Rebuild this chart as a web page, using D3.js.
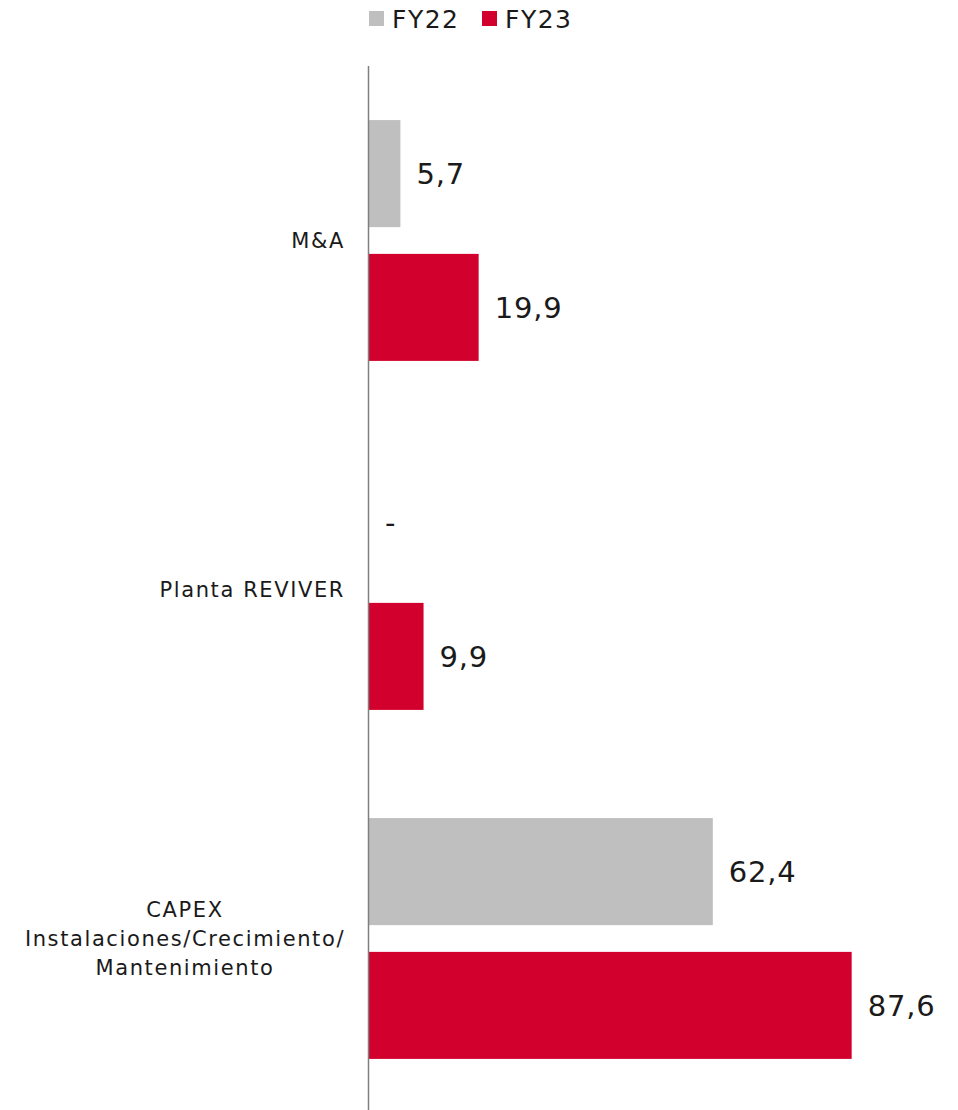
<!DOCTYPE html>
<html>
<head>
<meta charset="utf-8">
<script src="https://cdn.jsdelivr.net/npm/d3@7"></script>
<style>
  body { margin: 0; background: #fff; }
  text { font-family: "DejaVu Sans", sans-serif; fill: #1a1a1a; }
</style>
</head>
<body>
<svg width="958" height="1110"></svg>
<script>
// categories, top to bottom
var categories = ["M&A", "Planta REVIVER", "CAPEX Instalaciones/Crecimiento/ Mantenimiento"];
var categoryLines = [["M&A"], ["Planta REVIVER"], ["CAPEX", "Instalaciones/Crecimiento/", "Mantenimiento"]];
var seriesNames = ["FY22", "FY23"];
var fy22 = [5.7, 0, 62.4];
var fy23 = [19.9, 9.9, 87.6];
var fy22Labels = ["5,7", "-", "62,4"];
var fy23Labels = ["19,9", "9,9", "87,6"];

var colors = {FY22: "#bfbfbf", FY23: "#d2002d"};

var svg = d3.select("svg");

var rows = categories.map(function(c, i) {
  return {
    cat: c,
    lines: categoryLines[i],
    values: [
      {series: "FY22", value: fy22[i], label: fy22Labels[i]},
      {series: "FY23", value: fy23[i], label: fy23Labels[i]}
    ]
  };
});

var y0 = d3.scaleBand()
  .domain(categories)
  .range([66, 1113])
  .paddingInner(0.31)
  .paddingOuter(0.155);

var y1 = d3.scaleBand()
  .domain(seriesNames)
  .range([0, y0.bandwidth()])
  .paddingInner(0.2);

var x = d3.scaleLinear()
  .domain([0, 100])
  .range([369, 920]);

var group = svg.append("g").selectAll("g")
  .data(rows)
  .enter().append("g")
    .attr("transform", function(d) { return "translate(0," + y0(d.cat) + ")"; });

group.selectAll("rect")
  .data(function(d) { return d.values; })
  .enter().append("rect")
    .attr("x", x(0))
    .attr("y", function(d) { return y1(d.series); })
    .attr("width", function(d) { return x(d.value) - x(0); })
    .attr("height", y1.bandwidth())
    .attr("fill", function(d) { return colors[d.series]; });

// value labels
group.selectAll("text.val")
  .data(function(d) { return d.values; })
  .enter().append("text")
    .attr("class", "val")
    .attr("x", function(d) { return x(d.value) + 16; })
    .attr("y", function(d) { return y1(d.series) + y1.bandwidth() / 2; })
    .attr("dy", "0.35em")
    .style("font-size", "29px")
    .style("letter-spacing", "0.8px")
    .text(function(d) { return d.label; });

// category labels
group.each(function(d) {
  var g = d3.select(this),
    n = d.lines.length,
    lh = 29,
    cy = y0.bandwidth() / 2;
  var t = g.append("text")
    .attr("text-anchor", n > 1 ? "middle" : "end")
    .style("font-size", "21px")
    .style("letter-spacing", "1.6px");
  d.lines.forEach(function(l, i) {
    t.append("tspan")
      .attr("x", n > 1 ? 185 : 345)
      .attr("y", cy + (i - (n - 1) / 2) * lh)
      .attr("dy", "0.35em")
      .text(l);
  });
});

// axis line
svg.append("line")
  .attr("x1", 368.5).attr("x2", 368.5)
  .attr("y1", 66).attr("y2", 1110)
  .attr("stroke", "#7f7f7f")
  .attr("stroke-width", 1.5);

// legend
var legend = svg.append("g").selectAll("g")
  .data(seriesNames)
  .enter().append("g")
    .attr("transform", function(d, i) { return "translate(" + (369 + i * 113) + ",11)"; });

legend.append("rect")
  .attr("width", 15)
  .attr("height", 15)
  .attr("fill", function(d) { return colors[d]; });

legend.append("text")
  .attr("x", 23)
  .attr("y", 8)
  .attr("dy", "0.35em")
  .style("font-size", "25px")
  .style("letter-spacing", "1.5px")
  .text(function(d) { return d; });
</script>
</body>
</html>
